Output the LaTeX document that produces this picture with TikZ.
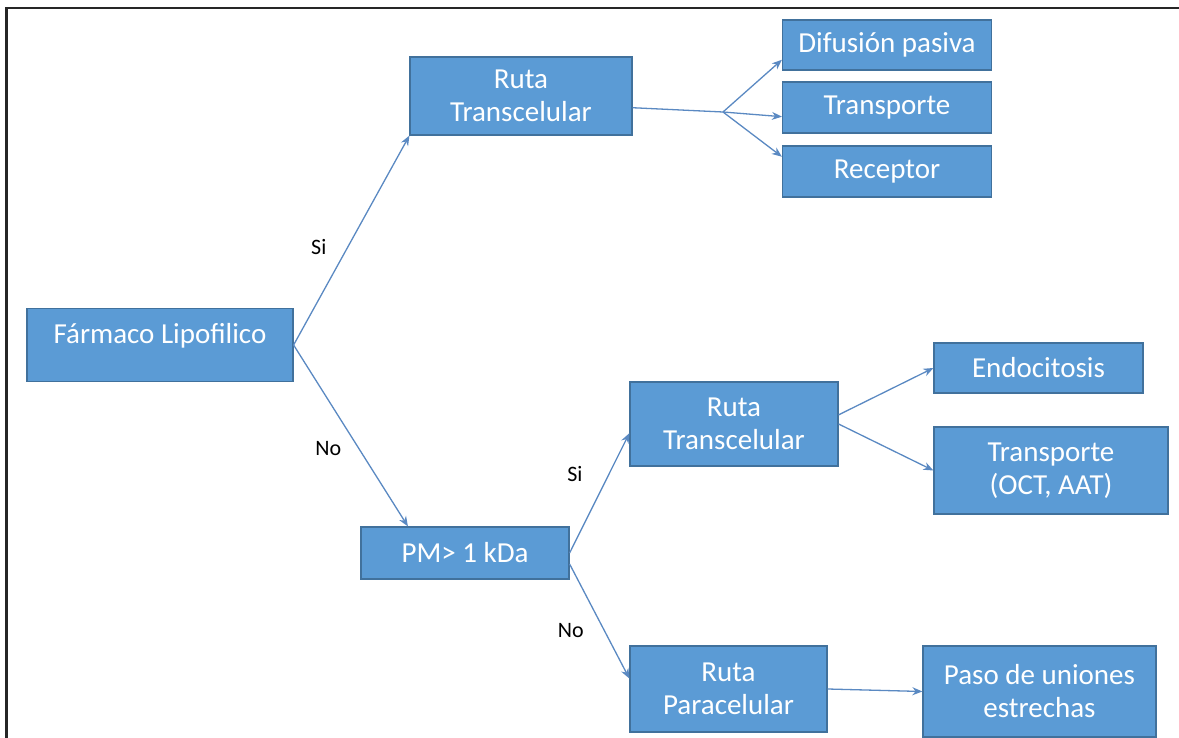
\documentclass[tikz,border=0pt]{standalone}
\usepackage{fontspec}
\setmainfont{Carlito}
\usetikzlibrary{arrows.meta}
\definecolor{boxfill}{HTML}{5B9BD5}
\definecolor{boxline}{HTML}{41719C}
\definecolor{arrowc}{HTML}{5A89C2}
\tikzset{
	box/.style={draw=boxline, line width=1.2pt, fill=boxfill, text=white, align=center, inner sep=0pt, font=\fontsize{29}{33}\selectfont},
	lbl/.style={black, inner sep=0pt, font=\fontsize{22}{24}\selectfont}
}
\begin{document}
\begin{tikzpicture}[x=1pt, y=-1pt]
				\useasboundingbox (0,0) rectangle (1179,738);
				\draw[line width=2.5pt, black!85] (6.5,738) -- (6.5,8) -- (1179,8);
				\node[box, minimum width=266pt, minimum height=73pt] (farmaco) at (160,345) {\raisebox{2pt}[0pt][0pt]{Fármaco Lipofilico}};
				\node[box, minimum width=222pt, minimum height=78pt] (rutaA) at (521,96) {Ruta\\Transcelular};
				\node[box, minimum width=209pt, minimum height=50pt] (difusion) at (887,45) {Difusión pasiva};
				\node[box, minimum width=209pt, minimum height=51pt] (transpA) at (887,107.5) {Transporte};
				\node[box, minimum width=209pt, minimum height=51pt] (receptor) at (887,171.5) {Receptor};
				\node[box, minimum width=208pt, minimum height=52pt] (pm) at (465,553) {PM> 1 kDa};
				\node[box, minimum width=208pt, minimum height=84pt] (rutaB) at (734,424) {Ruta\\Transcelular};
				\node[box, minimum width=209pt, minimum height=50pt] (endo) at (1038.5,368) {Endocitosis};
				\node[box, minimum width=234pt, minimum height=87pt] (transpB) at (1051,470.5) {Transporte\\(OCT, AAT)};
				\node[box, minimum width=197pt, minimum height=86pt] (para) at (728.5,689) {Ruta\\Paracelular};
				\node[box, minimum width=233pt, minimum height=91pt] (paso) at (1039.5,691.5) {Paso de uniones\\estrechas};
				\coordinate (fan) at (723,112);
				\draw[arrowc, line width=1.3pt] (rutaA.-6) -- (fan);
				\path[-{Stealth[length=10pt,width=8pt]}, arrowc, line width=1.3pt]
				(farmaco.east) edge node [lbl, pos=0.47, left=21pt] {Si} (rutaA.south west)
				(farmaco.east) edge node [lbl, pos=0.57, left=17pt] {No} (pm.155)
				(fan) edge (difusion.188)
				(fan) edge (transpA.185)
				(fan) edge (receptor.172)
				(pm.east) edge node [lbl, pos=0.66, left=26pt] {Si} (rutaB.185)
				(pm.-6) edge node [lbl, pos=0.58, left=20pt] {No} (para.174)
				(rutaB.5) edge (endo.west)
				(rutaB.east) edge (transpB.west)
				(para.east) edge (paso.west);
			\end{tikzpicture}
\end{document}
